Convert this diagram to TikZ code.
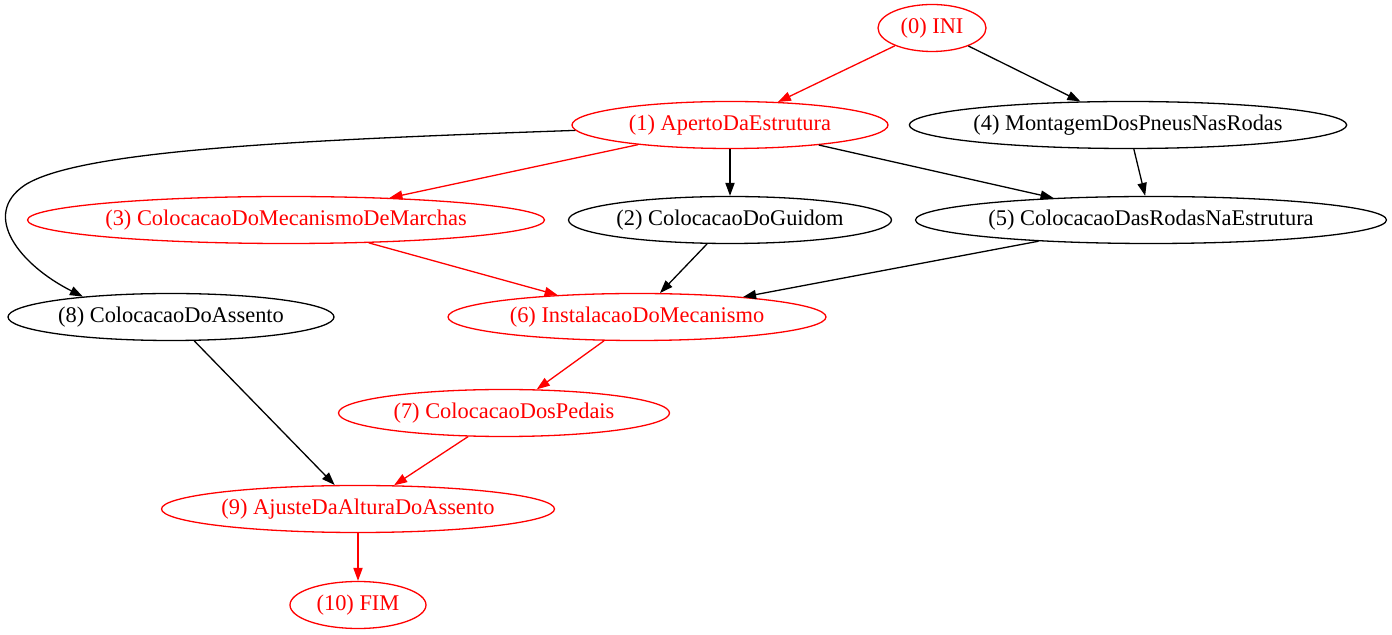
\documentclass[tikz,border=0pt]{standalone}
\usepackage{fontspec}
\setmainfont{Liberation Serif}
\usetikzlibrary{shapes.geometric,arrows.meta}
\begin{document}
\begin{tikzpicture}[x=0.5pt,y=-0.5pt,
        task/.style={ellipse,draw,line width=0.65pt,inner sep=0pt,minimum height=23.5pt,minimum width={#1*0.5pt},font=\fontsize{11.2}{14}\selectfont},
        crit/.style={task={#1},red},
        dep/.style={-{Triangle[length=6.5pt,width=4.6pt]},line width=0.65pt},
        critdep/.style={dep,red}]
    \useasboundingbox (0,0) rectangle (1392,635);
    % nodes
    \node[crit=108] (ini) at (932,28) {(0) INI};
    \node[crit=316] (aperto) at (730,125) {(1) ApertoDaEstrutura};
    \node[task=420] (pneus) at (1128,125) {(4) MontagemDosPneusNasRodas};
    \node[crit=517] (marchas) at (286,220) {(3) ColocacaoDoMecanismoDeMarchas};
    \node[task=323] (guidom) at (730,220) {(2) ColocacaoDoGuidom};
    \node[task=471] (rodas) at (1151,220) {(5) ColocacaoDasRodasNaEstrutura};
    \node[task=326] (assento) at (171,317) {(8) ColocacaoDoAssento};
    \node[crit=378] (mecanismo) at (637,317) {(6) InstalacaoDoMecanismo};
    \node[crit=331] (pedais) at (504,413) {(7) ColocacaoDosPedais};
    \node[crit=393] (ajuste) at (358,509) {(9) AjusteDaAlturaDoAssento};
    \node[crit=136] (fim) at (358,605) {(10) FIM};
    % edges
    \draw[critdep] (ini)--(aperto);
    \draw[dep] (ini)--(pneus);
    \draw[critdep] (aperto)--(marchas);
    \draw[dep] (aperto)--(guidom);
    \draw[dep] (aperto)--(rodas);
    \draw[dep] (aperto.182) .. controls (300,140) and (80,150) .. (25,185)
        .. controls (-20,215) and (20,265) .. (assento.167);
    \draw[dep] (pneus)--(rodas);
    \draw[critdep] (marchas)--(mecanismo);
    \draw[dep] (guidom)--(mecanismo);
    \draw[dep] (rodas)--(mecanismo);
    \draw[critdep] (mecanismo)--(pedais);
    \draw[dep] (assento)--(ajuste);
    \draw[critdep] (pedais)--(ajuste);
    \draw[critdep] (ajuste)--(fim);
\end{tikzpicture}
\end{document}
